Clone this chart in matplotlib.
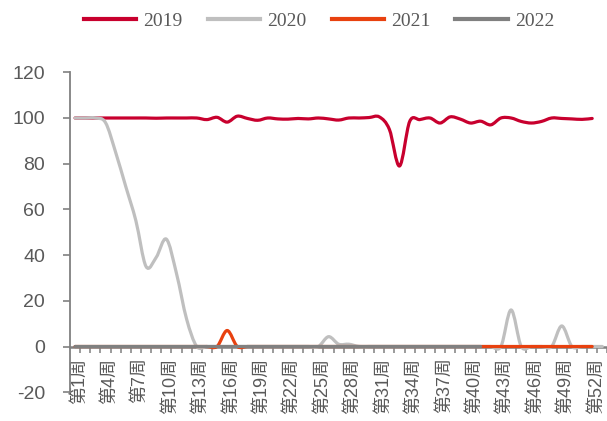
import numpy as np
import matplotlib
matplotlib.use("Agg")
import matplotlib.pyplot as plt
from matplotlib.path import Path
from matplotlib.patches import PathPatch
from matplotlib.lines import Line2D
import matplotlib.transforms as mtransforms

# ---------------- data ----------------
weeks = list(range(1, 54))
week_labels = [f"第{w}周" for w in weeks]

s2019 = [100, 100, 100, 100, 100, 100, 100, 100, 99.9, 100,
         100, 100, 100, 99.3, 100.3, 98.2, 100.8, 99.8, 99.0, 100,
         99.6, 99.5, 99.8, 99.6, 100, 99.6, 99.1, 100, 100, 100.2,
         100.5, 95, 79, 98.5, 99.3, 100, 97.8, 100.5, 99.5, 97.8,
         98.6, 97.0, 100, 100, 98.5, 97.8, 98.5, 100, 99.8, 99.6,
         99.4, 99.8]
s2020 = [100, 100, 100, 98, 85, 70, 55, 35, 39, 47,
         32, 12, 0, 0, 0, 0, 0, 0, 0, 0,
         0, 0, 0, 0, 0, 4.3, 1, 1, 0, 0,
         0, 0, 0, 0, 0, 0, 0, 0, 0, 0,
         0, 0, 0, 16, 0, 0, 0, 0, 9, 0,
         0, 0, 0]
s2021 = [0, 0, 0, 0, 0, 0, 0, 0, 0, 0,
         0, 0, 0, 0, 0, 7, 0, 0, 0, 0,
         0, 0, 0, 0, 0, 0, 0, 0, 0, 0,
         0, 0, 0, 0, 0, 0, 0, 0, 0, 0,
         0, 0, 0, 0, 0, 0, 0, 0, 0, 0,
         0, 0]
s2022 = [0] * 41

series_names = ["2019", "2020", "2021", "2022"]
series_data = [s2019, s2020, s2021, s2022]
series_colors = ["#C8002E", "#BFBFBF", "#E8410F", "#808080"]

yticks = [-20, 0, 20, 40, 60, 80, 100, 120]

# ---------------- helpers ----------------
def smooth_path(xv, yv):
    pts = np.column_stack([np.asarray(xv, float), np.asarray(yv, float)])
    n = len(pts)
    verts = [pts[0]]
    codes = [Path.MOVETO]
    for i in range(n - 1):
        p0 = pts[i - 1] if i > 0 else pts[i]
        p1 = pts[i]
        p2 = pts[i + 1]
        p3 = pts[i + 2] if i + 2 < n else pts[i + 1]
        c1 = p1 + (p2 - p0) / 6.0
        c2 = p2 - (p3 - p1) / 6.0
        verts += [c1, c2, p2]
        codes += [Path.CURVE4] * 3
    return Path(verts, codes)

# ---------------- figure ----------------
fig = plt.figure(figsize=(6.07, 4.21), dpi=100)
ax = fig.add_axes([70 / 607, 1 - 392.2 / 421, 537.4 / 607, (392.2 - 72.3) / 421])

for name, data, col in zip(series_names, series_data, series_colors):
    xs = weeks[:len(data)]
    p = PathPatch(smooth_path(xs, data), fill=False, edgecolor=col, lw=2.3,
                  capstyle="round", joinstyle="round", zorder=3)
    ax.add_patch(p)

ax.set_xlim(0.5, 53.5)
ax.set_ylim(-20, 120)

for s in ["top", "right"]:
    ax.spines[s].set_visible(False)
ax.spines["left"].set_color("#808080")
ax.spines["left"].set_linewidth(1.3)
ax.spines["bottom"].set_position(("data", 0))
ax.spines["bottom"].set_color("#808080")
ax.spines["bottom"].set_linewidth(1.8)
ax.spines["bottom"].set_zorder(2)

ax.set_yticks(yticks)
ax.set_yticklabels([str(v) for v in yticks])
ax.tick_params(axis="y", direction="out", length=5, width=1.2, color="#808080",
               pad=13, labelsize=14, labelcolor="#595959")
for lab in ax.get_yticklabels():
    lab.set_family("Liberation Sans")

major = weeks[::3]
ax.set_xticks(major)
ax.set_xticklabels([week_labels[w - 1] for w in major], rotation=90)
ax.set_xticks([w + 0.5 for w in weeks], minor=True)
ax.tick_params(axis="x", which="major", length=0, pad=8, labelsize=13,
               labelcolor="#595959")
ax.tick_params(axis="x", which="minor", direction="out", length=4, width=1.1,
               color="#808080")
offset = mtransforms.ScaledTranslation(4 / 100, 0, fig.dpi_scale_trans)
for lab in ax.get_xticklabels():
    lab.set_family(["Liberation Sans", "Noto Sans CJK SC"])
    lab.set_verticalalignment("top")
    lab.set_transform(lab.get_transform() + offset)

handles = [Line2D([0], [0], color=c, lw=3) for c in series_colors]
leg = fig.legend(handles, series_names, loc="center", bbox_to_anchor=(319 / 607, 1 - 21 / 421),
                 ncol=4, frameon=False, handlelength=2.7, handletextpad=0.35,
                 columnspacing=1.3, prop={"family": "Liberation Serif", "size": 14})
for t in leg.get_texts():
    t.set_color("#595959")

fig.savefig("out.png", dpi=100)
